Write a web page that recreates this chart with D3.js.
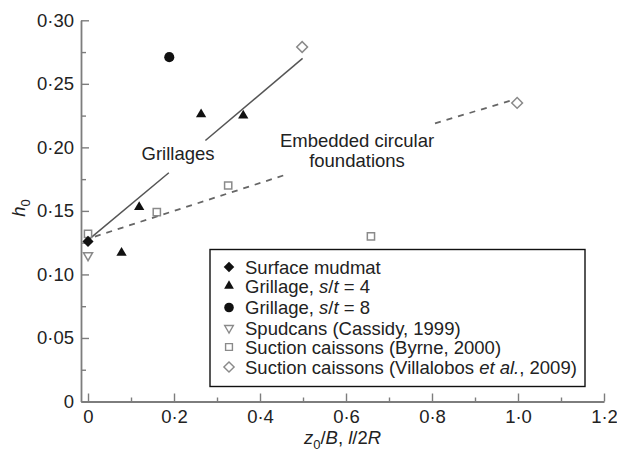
<!DOCTYPE html>
<html>
<head>
<meta charset="utf-8">
<script src="https://cdn.jsdelivr.net/npm/d3@7"></script>
<style>
  html, body { margin: 0; padding: 0; background: #fff; }
  svg { display: block; font-family: "Liberation Sans", Arial, sans-serif; }
</style>
</head>
<body>
<svg id="chart" width="617" height="452"></svg>
<script>
// Measured points: x = z0/B or l/2R, y = h0
const mudmat     = [[0, 0.126]];
const grillage4  = [[0.078, 0.117], [0.119, 0.153], [0.263, 0.226], [0.361, 0.225]];
const grillage8  = [[0.189, 0.271]];
const spudcans   = [[0, 0.115]];
const byrne      = [[0, 0.132], [0.16, 0.149], [0.326, 0.170], [0.658, 0.130]];
const villalobos = [[0.498, 0.279], [0.998, 0.235]];

// Trend lines, split where the annotation sits
const grillageFit = [[[0, 0.127], [0.188, 0.180]], [[0.273, 0.2054], [0.499, 0.270]]];
const embeddedFit = [[[0.016, 0.1298], [0.458, 0.1783]], [[0.807, 0.2189], [0.981, 0.2366]]];

// Axis ticks
const xTicks = [0, 0.2, 0.4, 0.6, 0.8, 1.0, 1.2];
const xTickLabels = ["0", "0·2", "0·4", "0·6", "0·8", "1·0", "1·2"];
const xMinor = [0.1, 0.3, 0.5, 0.7, 0.9, 1.1];
const yTicks = [0, 0.05, 0.10, 0.15, 0.20, 0.25, 0.30];
const yTickLabels = ["0", "0·05", "0·10", "0·15", "0·20", "0·25", "0·30"];
const yMinor = [0.025, 0.075, 0.125, 0.175, 0.225, 0.275];

const svg = d3.select("#chart");
const axisColor = "#7d7d7d";
const textColor = "#222";
const fontSize = 18.5;
const subSize = 13;

const x = d3.scaleLinear().domain([-0.0163, 1.2]).range([81, 604]);
const y = d3.scaleLinear().domain([0, 0.30]).range([401.5, 20.3]);

// --- axes ---
function styleAxis(g) {
  g.select(".domain").attr("stroke", axisColor).attr("stroke-width", 1.8);
  g.selectAll(".tick line").attr("stroke", axisColor).attr("stroke-width", 1.4);
  g.selectAll(".tick text").attr("fill", textColor).style("font-size", fontSize + "px")
    .style("font-family", '"Liberation Sans", Arial, sans-serif');
}

const xAxis = svg.append("g").attr("transform", `translate(0,${y(0)})`)
  .call(d3.axisBottom(x).tickValues(xTicks).tickSize(-8).tickSizeOuter(0).tickPadding(8)
    .tickFormat((d, i) => xTickLabels[i]));
styleAxis(xAxis);

const xMinorAxis = svg.append("g").attr("transform", `translate(0,${y(0)})`)
  .call(d3.axisBottom(x).tickValues(xMinor).tickSize(-4).tickSizeOuter(0).tickFormat(""));
xMinorAxis.select(".domain").remove();
xMinorAxis.selectAll(".tick line").attr("stroke", axisColor).attr("stroke-width", 1.4);

const yAxis = svg.append("g").attr("transform", `translate(${x.range()[0]},0)`)
  .call(d3.axisLeft(y).tickValues(yTicks).tickSize(-8).tickSizeOuter(0).tickPadding(7)
    .tickFormat((d, i) => yTickLabels[i]));
styleAxis(yAxis);

const yMinorAxis = svg.append("g").attr("transform", `translate(${x.range()[0]},0)`)
  .call(d3.axisLeft(y).tickValues(yMinor).tickSize(-5).tickSizeOuter(0).tickFormat(""));
yMinorAxis.select(".domain").remove();
yMinorAxis.selectAll(".tick line").attr("stroke", axisColor).attr("stroke-width", 1.4);

// --- axis titles ---
const xTitle = svg.append("text")
  .attr("x", (x.range()[0] + x.range()[1]) / 2).attr("y", 444)
  .attr("text-anchor", "middle").attr("fill", textColor).style("font-size", fontSize + "px");
xTitle.append("tspan").attr("font-style", "italic").text("z");
xTitle.append("tspan").attr("dy", 5).style("font-size", subSize + "px").text("0");
xTitle.append("tspan").attr("dy", -5).text("/");
xTitle.append("tspan").attr("font-style", "italic").text("B");
xTitle.append("tspan").text(", ");
xTitle.append("tspan").attr("font-style", "italic").text("l");
xTitle.append("tspan").text("/2");
xTitle.append("tspan").attr("font-style", "italic").text("R");

const yTitle = svg.append("text")
  .attr("transform", "translate(25,208) rotate(-90)")
  .attr("text-anchor", "middle").attr("fill", textColor).style("font-size", fontSize + "px");
yTitle.append("tspan").attr("font-style", "italic").text("h");
yTitle.append("tspan").attr("dy", 5).style("font-size", subSize + "px").text("0");

// --- trend lines ---
const line = d3.line().x(d => x(d[0])).y(d => y(d[1]));
svg.append("g").selectAll("path").data(grillageFit).join("path")
  .attr("d", line).attr("fill", "none").attr("stroke", "#555").attr("stroke-width", 1.5);
svg.append("g").selectAll("path").data(embeddedFit).join("path")
  .attr("d", line).attr("fill", "none").attr("stroke", "#666").attr("stroke-width", 1.8)
  .attr("stroke-dasharray", "6,6");

// --- annotations ---
svg.append("text").attr("x", 178).attr("y", 160).attr("text-anchor", "middle")
  .attr("fill", textColor).style("font-size", fontSize + "px").text("Grillages");
const emb = svg.append("text").attr("text-anchor", "middle").attr("fill", textColor)
  .style("font-size", fontSize + "px");
emb.append("tspan").attr("x", 357).attr("y", 147).text("Embedded circular");
emb.append("tspan").attr("x", 357).attr("y", 167).text("foundations");

// --- markers ---
const series = [
  { data: mudmat,     shape: "diamond", fill: "#111", stroke: "none", size: 62, rot: 45 },
  { data: grillage4,  shape: "triangle", fill: "#111", stroke: "none", size: 46, rot: 0 },
  { data: grillage8,  shape: "circle", fill: "#111", stroke: "none", size: 80, rot: 0 },
  { data: spudcans,   shape: "triangle", fill: "#fff", stroke: "#8a8a8a", size: 36, rot: 180 },
  { data: byrne,      shape: "square", fill: "#fff", stroke: "#8a8a8a", size: 52, rot: 0 },
  { data: villalobos, shape: "diamond", fill: "#fff", stroke: "#8a8a8a", size: 58, rot: 45 }
];
const symType = { diamond: d3.symbolSquare, triangle: d3.symbolTriangle, circle: d3.symbolCircle, square: d3.symbolSquare };

// Draw open markers first so filled ones sit on top near the origin
const drawOrder = [3, 4, 5, 0, 1, 2];
drawOrder.forEach(i => {
  const s = series[i];
  svg.append("g").selectAll("path").data(s.data).join("path")
    .attr("d", d3.symbol().type(symType[s.shape]).size(s.size))
    .attr("transform", d => `translate(${x(d[0])},${y(d[1])}) rotate(${s.rot})`)
    .attr("fill", s.fill).attr("stroke", s.stroke).attr("stroke-width", 1.5);
});

// --- legend ---
const legendLabels = [
  [["Surface mudmat", false]],
  [["Grillage, ", false], ["s", true], ["/", false], ["t", true], [" = 4", false]],
  [["Grillage, ", false], ["s", true], ["/", false], ["t", true], [" = 8", false]],
  [["Spudcans (Cassidy, 1999)", false]],
  [["Suction caissons (Byrne, 2000)", false]],
  [["Suction caissons (Villalobos ", false], ["et al.", true], [", 2009)", false]]
];
const legendRowY = [267, 286, 307.5, 328, 347, 367];
const legend = svg.append("g");
legend.append("rect").attr("x", 210).attr("y", 249.5).attr("width", 375).attr("height", 137)
  .attr("fill", "#fff").attr("stroke", "#111").attr("stroke-width", 1.4);
legendLabels.forEach((parts, i) => {
  const s = series[i];
  const cy = legendRowY[i];
  legend.append("path")
    .attr("d", d3.symbol().type(symType[s.shape]).size(s.size * 0.9))
    .attr("transform", `translate(229,${cy}) rotate(${s.rot})`)
    .attr("fill", s.fill).attr("stroke", s.stroke).attr("stroke-width", 1.4);
  const t = legend.append("text").attr("x", 245).attr("y", cy).attr("dy", "0.36em")
    .attr("fill", textColor).style("font-size", fontSize + "px");
  parts.forEach(([str, ital]) => {
    t.append("tspan").attr("font-style", ital ? "italic" : null).text(str);
  });
});
</script>
</body>
</html>
